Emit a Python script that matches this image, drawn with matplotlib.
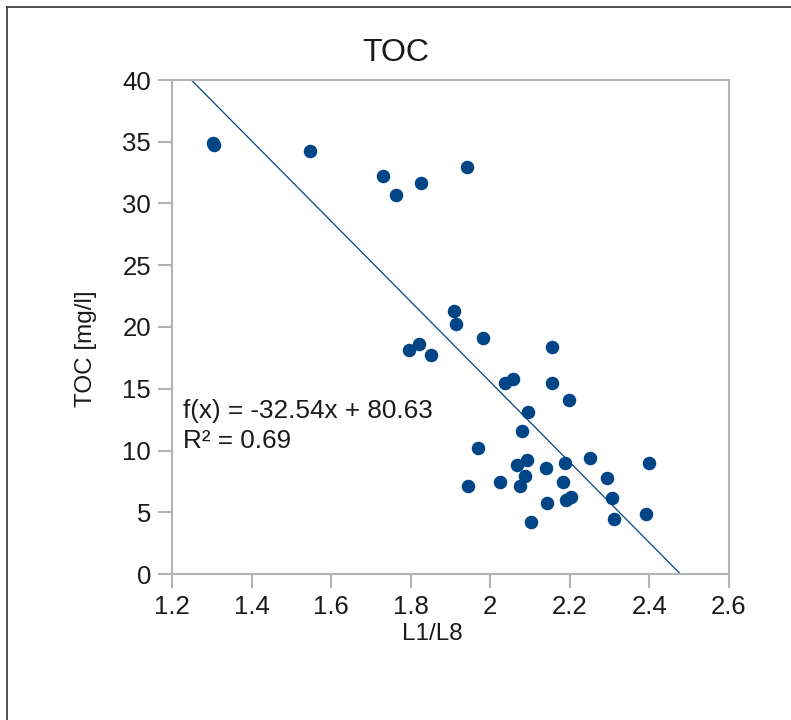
import matplotlib
matplotlib.use("Agg")
import matplotlib.pyplot as plt
from matplotlib.lines import Line2D

plt.rcParams['font.family'] = ['Liberation Sans', 'DejaVu Sans']

# Data: L1/L8 ratio vs TOC [mg/l]
l1_l8 = [1.302, 1.305, 1.546, 1.730, 1.763, 1.826, 1.942, 1.910, 1.914, 1.982,
         1.795, 1.820, 1.851, 2.036, 2.057, 2.154, 2.156, 2.197, 2.096, 2.080,
         1.969, 2.093, 2.068, 2.087, 2.074, 2.024, 1.943, 2.141, 2.187, 2.182,
         2.251, 2.293, 2.305, 2.191, 2.204, 2.142, 2.103, 2.312, 2.398, 2.392]
toc = [34.9, 34.7, 34.25, 32.2, 30.7, 31.7, 32.95, 21.3, 20.25, 19.1,
       18.1, 18.6, 17.7, 15.5, 15.75, 15.5, 18.4, 14.1, 13.1, 11.55,
       10.2, 9.25, 8.8, 7.95, 7.1, 7.45, 7.1, 8.55, 9.0, 7.45,
       9.4, 7.75, 6.15, 6.0, 6.2, 5.75, 4.2, 4.45, 8.95, 4.85]

slope = -32.54
intercept = 80.63
r2 = 0.69

x_ticks = [1.2, 1.4, 1.6, 1.8, 2.0, 2.2, 2.4, 2.6]
x_tick_labels = ["1.2", "1.4", "1.6", "1.8", "2", "2.2", "2.4", "2.6"]
y_ticks = [0, 5, 10, 15, 20, 25, 30, 35, 40]

blue = "#004586"
gray = "#b3b3b3"
txt = "#1a1a1a"

fig = plt.figure(figsize=(7.91, 7.2), dpi=100)
ax = fig.add_axes([172/791, 1-574/720, (729-172)/791, (574-80)/720])

ax.scatter(l1_l8, toc, s=95, color=blue, zorder=3, linewidths=0)

# trend line from regression coefficients
xl = [1.2, 2.6]
yl = [slope*x + intercept for x in xl]
ax.plot(xl, yl, color=blue, lw=0.9, zorder=2)

ax.set_xlim(1.2, 2.6)
ax.set_ylim(0, 40)
ax.set_xticks(x_ticks)
ax.set_xticklabels(x_tick_labels)
ax.set_yticks(y_ticks)

for s in ax.spines.values():
    s.set_color(gray)
    s.set_linewidth(1.5)
ax.tick_params(axis='both', direction='out', length=10, width=1.5, color=gray,
               labelsize=18.5, labelcolor=txt, pad=5)

fig.text(183/791, 1-418/720, f"f(x) = {slope:.2f}x + {intercept:.2f}",
         fontsize=18.8, color=txt, ha='left', va='baseline')
fig.text(183/791, 1-448/720, f"R\u00b2 = {r2:.2f}",
         fontsize=18.8, color=txt, ha='left', va='baseline')

fig.text(396/791, 1-61/720, "TOC", fontsize=23, color=txt,
         ha='center', va='baseline')
fig.text(432/791, 1-640/720, "L1/L8", fontsize=17.5, color=txt,
         ha='center', va='baseline')
fig.text(86/791, 1-349/720, "TOC [mg/l]", fontsize=17.5, color=txt,
         ha='center', va='center', rotation=90)

# outer frame (left and top edges visible)
fig.add_artist(Line2D([7/791, 7/791], [0, 1-6.5/720], transform=fig.transFigure,
                      color="#333333", lw=1.2))
fig.add_artist(Line2D([7/791, 1], [1-6.5/720, 1-6.5/720], transform=fig.transFigure,
                      color="#333333", lw=1.2))

fig.savefig("out.png", dpi=100, facecolor="white")
